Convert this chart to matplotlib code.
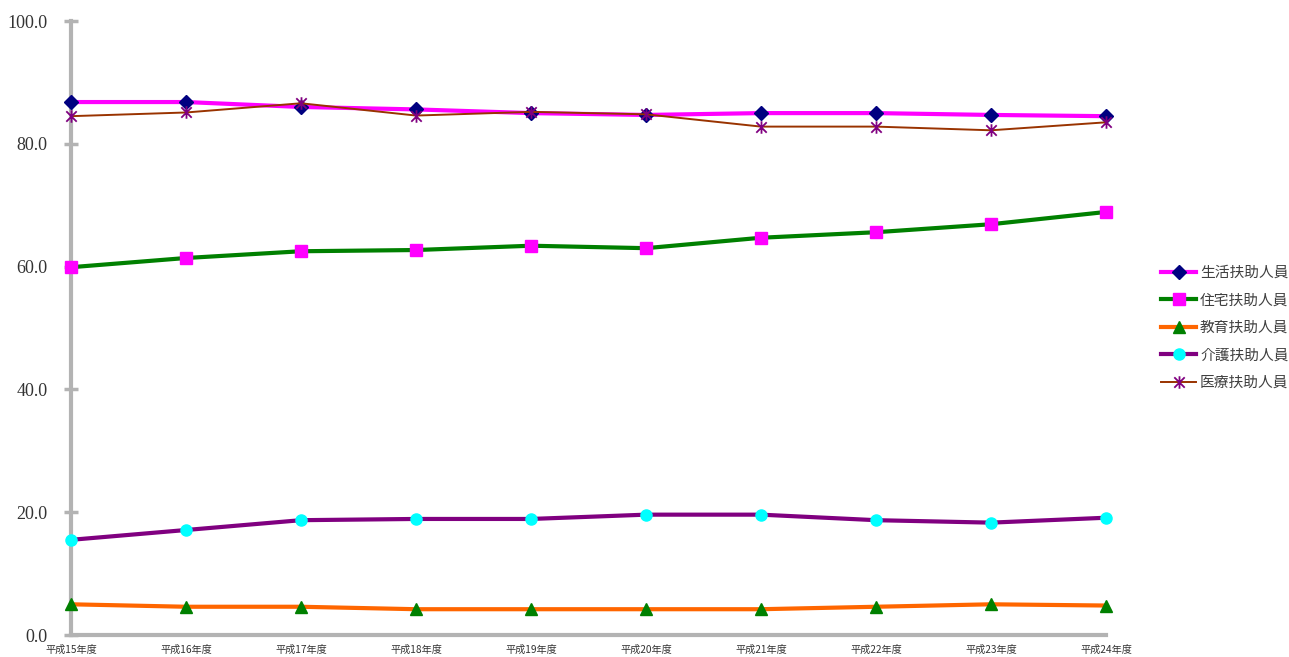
import matplotlib
matplotlib.use("Agg")
import matplotlib.pyplot as plt
from matplotlib.path import Path

plt.rcParams["font.family"] = ["Noto Sans CJK JP", "DejaVu Sans"]

years = ["平成15年度", "平成16年度", "平成17年度", "平成18年度", "平成19年度",
         "平成20年度", "平成21年度", "平成22年度", "平成23年度", "平成24年度"]

seikatsu = [86.8, 86.8, 86.0, 85.6, 85.0, 84.7, 85.0, 85.0, 84.7, 84.5]
jutaku = [59.9, 61.4, 62.5, 62.7, 63.4, 63.0, 64.7, 65.6, 66.9, 68.9]
kyoiku = [5.0, 4.6, 4.6, 4.2, 4.2, 4.2, 4.2, 4.6, 5.0, 4.8]
kaigo = [15.5, 17.1, 18.7, 18.9, 18.9, 19.6, 19.6, 18.7, 18.3, 19.1]
iryo = [84.5, 85.1, 86.6, 84.6, 85.2, 84.8, 82.8, 82.8, 82.2, 83.5]

series_names = ["生活扶助人員", "住宅扶助人員", "教育扶助人員", "介護扶助人員", "医療扶助人員"]

y_ticks = [0, 20, 40, 60, 80, 100]

# Excel-style star marker: an x with a vertical bar through it
star = Path(
    [(-1, -1), (1, 1), (-1, 1), (1, -1), (0, -1.2), (0, 1.2)],
    [Path.MOVETO, Path.LINETO, Path.MOVETO, Path.LINETO, Path.MOVETO, Path.LINETO],
)

styles = [
    dict(color="#FF00FF", lw=3.0, marker="D", ms=7, mfc="#000080", mec="#000080"),
    dict(color="#008000", lw=3.0, marker="s", ms=8, mfc="#FF00FF", mec="#FF00FF"),
    dict(color="#FF6600", lw=3.0, marker="^", ms=8, mfc="#008000", mec="#008000"),
    dict(color="#800080", lw=3.0, marker="o", ms=8, mfc="#00FFFF", mec="#00FFFF"),
    dict(color="#993300", lw=1.4, marker=star, ms=9, mfc="none", mec="#800080", mew=1.3),
]

fig = plt.figure(figsize=(12.89, 6.57), dpi=100)
ax = fig.add_axes([71 / 1289, 1 - 635 / 657, (1106 - 71) / 1289, (635 - 21) / 657])

x = list(range(len(years)))
for vals, name, st in zip([seikatsu, jutaku, kyoiku, kaigo, iryo], series_names, styles):
    ax.plot(x, vals, label=name, clip_on=False, zorder=3, **st)

ax.set_xlim(0, len(years) - 1)
ax.set_ylim(0, 100)
ax.set_yticks(y_ticks)
ax.set_yticklabels([f"{v:.1f}" for v in y_ticks], fontfamily="Liberation Serif",
                   fontsize=13, color="#333333")
ax.set_xticks(x)
ax.set_xticklabels(years, fontsize=7.3, color="#333333")

for side in ["top", "right"]:
    ax.spines[side].set_visible(False)
for side in ["left", "bottom"]:
    ax.spines[side].set_color("#B3B3B3")
    ax.spines[side].set_linewidth(3)
ax.tick_params(axis="y", direction="inout", length=10, width=2.5, color="#B3B3B3", pad=12)
ax.tick_params(axis="x", length=0, pad=7)

leg = ax.legend(loc="center left", bbox_to_anchor=(1161 / 1289, 1 - 328 / 657),
                bbox_transform=fig.transFigure, frameon=False, fontsize=10.6,
                handlelength=2.4, labelspacing=0.92, handletextpad=0.25, borderpad=0,
                borderaxespad=0)
for t in leg.get_texts():
    t.set_color("#404040")

fig.savefig("out.png", dpi=100)
